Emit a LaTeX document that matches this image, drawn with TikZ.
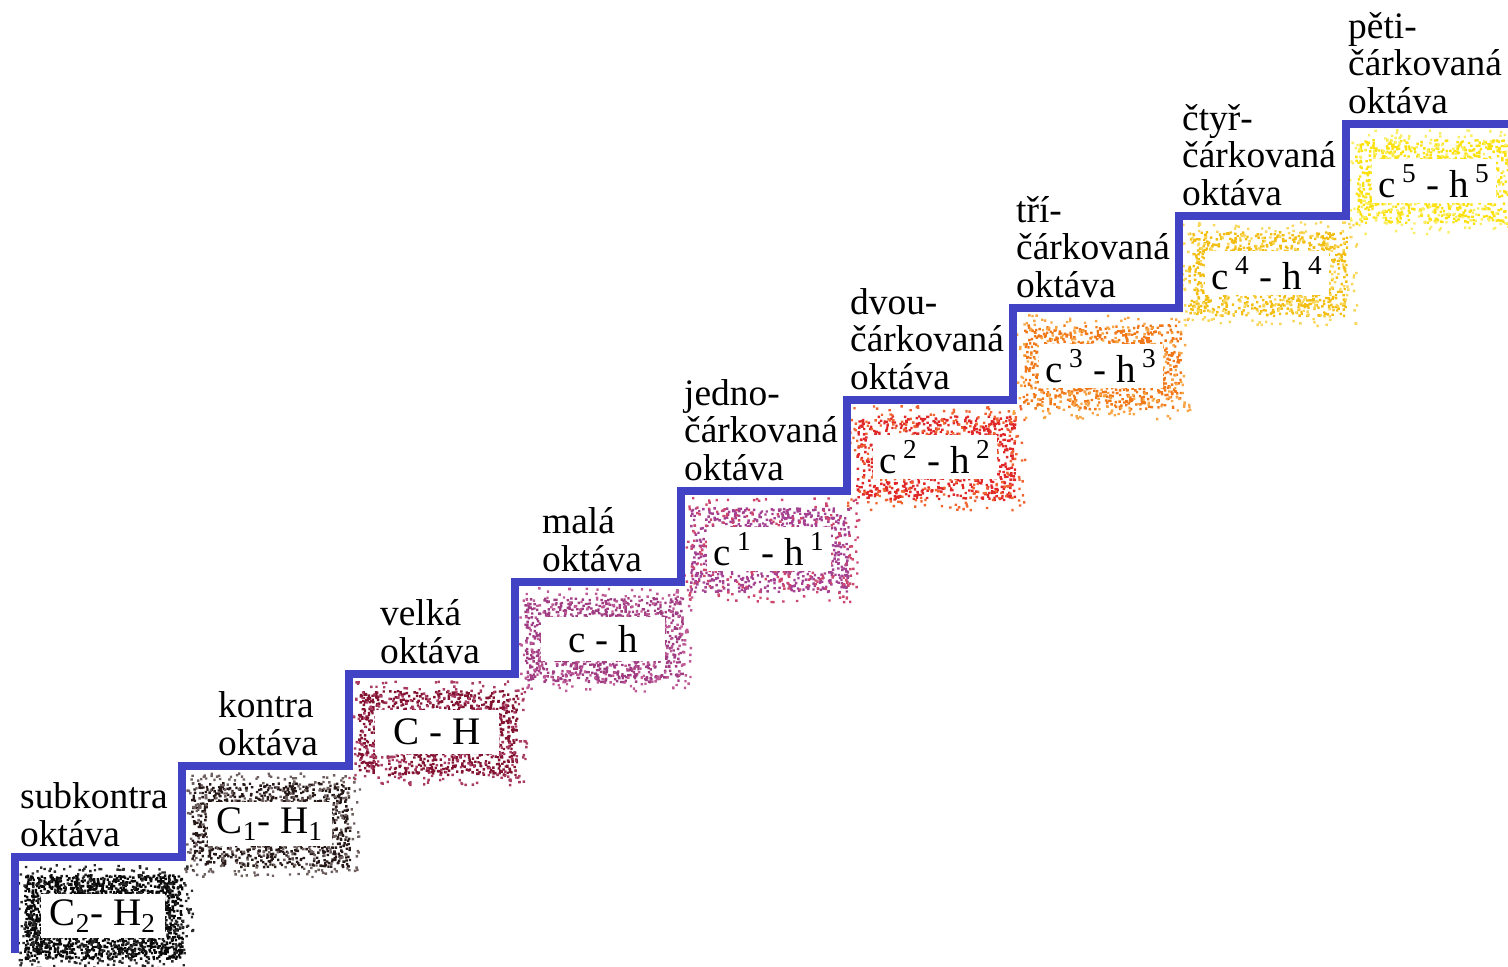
\documentclass[tikz,border=0pt]{standalone}
\usepackage{fontspec}
\setmainfont{Liberation Serif}
\definecolor{stairblue}{RGB}{66,66,196}
\definecolor{k1a}{RGB}{10,10,10}\definecolor{k1b}{RGB}{40,40,40}
\definecolor{k2a}{RGB}{40,25,25}\definecolor{k2b}{RGB}{110,95,95}
\definecolor{k3a}{RGB}{130,20,50}\definecolor{k3b}{RGB}{170,60,100}
\definecolor{k4a}{RGB}{160,60,130}\definecolor{k4b}{RGB}{190,90,150}
\definecolor{k5a}{RGB}{165,65,145}\definecolor{k5b}{RGB}{205,70,110}
\definecolor{k6a}{RGB}{225,40,40}\definecolor{k6b}{RGB}{240,100,50}
\definecolor{k7a}{RGB}{240,120,25}\definecolor{k7b}{RGB}{248,165,70}
\definecolor{k8a}{RGB}{242,190,20}\definecolor{k8b}{RGB}{248,215,90}
\definecolor{k9a}{RGB}{250,225,15}\definecolor{k9b}{RGB}{250,238,100}
\tikzset{
  lbl/.style={anchor=south, align=left, inner sep=0pt, font=\fontsize{18.7}{18.8}\selectfont},
  notebox/.style={fill=white, inner sep=0pt, minimum width=62pt, minimum height=22pt, font=\fontsize{19.5}{20}\selectfont},
  stair/.style={draw=stairblue, line width=4pt}
}
\newcommand\speckle[6]{%
  \fill[#3] \foreach \k in {1,...,#5}{ ({#1+(rnd-0.5)*158},{#2+(rnd-0.5)*84}) rectangle ++(2.4,2.4) };%
  \fill[#4] \foreach \k in {1,...,#6}{ ({#1+(rnd-0.5)*178},{#2+(rnd-0.5)*104}) rectangle ++(2.4,2.4) };%
}
\begin{document}
\begin{tikzpicture}[x=0.5pt,y=-0.5pt]
\useasboundingbox (0,0) rectangle (1508,967);
\pgfmathsetseed{11}
% speckled frames
\speckle{103}{916}{k1a}{k1b}{1900}{450}
\speckle{270}{824}{k2a}{k2b}{1000}{420}
\speckle{437}{732}{k3a}{k3b}{1000}{380}
\speckle{603}{639}{k4a}{k4b}{950}{350}
\speckle{769}{549}{k5a}{k5b}{800}{300}
\speckle{935}{457}{k6a}{k6b}{800}{300}
\speckle{1101}{366}{k7a}{k7b}{800}{300}
\speckle{1267}{273}{k8a}{k8b}{850}{300}
\speckle{1434}{181}{k9a}{k9b}{900}{300}
% note boxes
\node[notebox] (b1) at (103,916) {C\textsubscript{2}- H\textsubscript{2}};
\node[notebox] (b2) at (270,824) {C\textsubscript{1}- H\textsubscript{1}};
\node[notebox] (b3) at (437,732) {C - H};
\node[notebox] (b4) at (603,639) {c - h};
\node[notebox] (b5) at (769,549) {c\,\textsuperscript{1} - h\,\textsuperscript{1}};
\node[notebox] (b6) at (935,457) {c\,\textsuperscript{2} - h\,\textsuperscript{2}};
\node[notebox] (b7) at (1101,366) {c\,\textsuperscript{3} - h\,\textsuperscript{3}};
\node[notebox] (b8) at (1267,273) {c\,\textsuperscript{4} - h\,\textsuperscript{4}};
\node[notebox] (b9) at (1434,181) {c\,\textsuperscript{5} - h\,\textsuperscript{5}};
% staircase
\draw[stair] (15,953) -- (15,857) -- (182,857) -- (182,766) -- (349,766) -- (349,674)
  -- (515,674) -- (515,582) -- (681,582) -- (681,491) -- (847,491) -- (847,400)
  -- (1013,400) -- (1013,308) -- (1179,308) -- (1179,216) -- (1346,216) -- (1346,124) -- (1510,124);
% labels
\node[lbl] (l1) at (94,847) {subkontra\\oktáva};
\node[lbl] (l2) at (268,756) {kontra\\oktáva};
\node[lbl] (l3) at (430,664) {velká\\oktáva};
\node[lbl] (l4) at (592,572) {malá\\oktáva};
\node[lbl] (l5) at (761,481) {jedno-\\čárkovaná\\oktáva};
\node[lbl] (l6) at (927,390) {dvou-\\čárkovaná\\oktáva};
\node[lbl] (l7) at (1093,298) {tří-\\čárkovaná\\oktáva};
\node[lbl] (l8) at (1259,206) {čtyř-\\čárkovaná\\oktáva};
\node[lbl] (l9) at (1425,114) {pěti-\\čárkovaná\\oktáva};
\end{tikzpicture}
\end{document}
